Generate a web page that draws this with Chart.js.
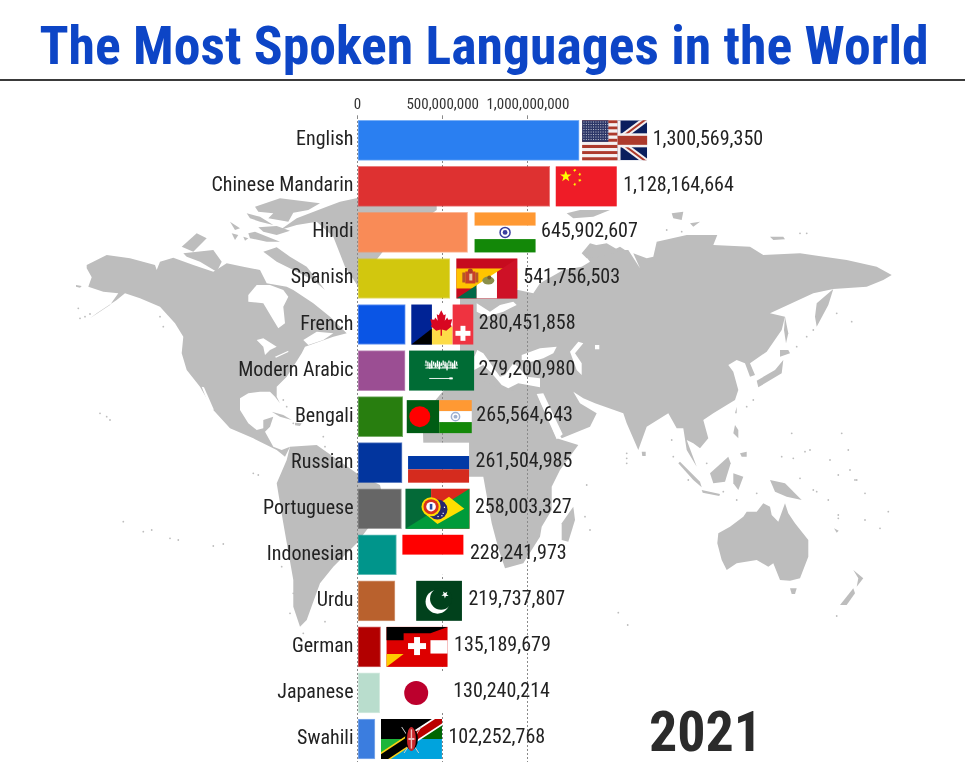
<!DOCTYPE html><html><head><meta charset="utf-8">
<style>html,body{margin:0;padding:0;background:#fff;overflow:hidden}
#map,#c{position:absolute;left:0;top:0}</style>
<script src="https://cdn.jsdelivr.net/npm/chart.js@4"></script></head><body>
<svg id="map" width="965" height="773" viewBox="0 0 965 773"></svg>
<canvas id="c" width="965" height="773"></canvas>
<script>
const languages=['English','Chinese Mandarin','Hindi','Spanish','French','Modern Arabic','Bengali','Russian','Portuguese','Indonesian','Urdu','German','Japanese','Swahili'];
const speakers=[1300569350,1128164664,645902607,541756503,280451858,279200980,265564643,261504985,258003327,228241973,219737807,135189679,130240214,102252768];
const barColors=['#2a7ff1','#de3131','#f98b57','#d2c70e','#0a55e5','#9b4e93','#287e0f','#02359e','#666666','#00958b','#b9612d','#b20000','#b9ddcd','#3b7ddf'];
const tickValues=[0,500000000,1000000000];
const titleText='The Most Spoken Languages in the World';
const yearText='2021';
const FONT='"Roboto Condensed"';

/* ---------- background map (decoration behind the chart) ---------- */
const z4=p=>[p[0]/3,190+p[1]/3], z5=p=>[480+p[0]/3,190+p[1]/3], z2=p=>[340+p[0]/3,300+p[1]/3], z3=p=>[230+p[0]/3,190+p[1]/3];
const GREY='#bdbdbd';
const mapShapes=[
 [z4,GREY,[[260,225],[320,195],[390,205],[465,225],[470,240],[480,215],[520,203],[580,225],[640,245],[680,220],[730,230],[780,240],[800,280],[860,290],[880,300],[940,340],[990,380],[1040,430],[1000,440],[915,470],[905,490],[860,560],[830,590],[830,620],[840,640],[825,620],[810,605],[780,605],[745,610],[720,625],[720,660],[745,700],[770,720],[790,715],[790,690],[820,680],[810,710],[795,725],[820,770],[845,780],[870,770],[855,800],[830,780],[760,745],[690,715],[640,660],[600,590],[560,540],[545,490],[550,440],[525,400],[480,350],[420,325],[375,310],[350,330],[290,370],[270,385],[330,345],[355,310],[310,305],[265,290],[275,262],[260,235]]],
 [z4,'#fff',[[745,315],[770,285],[810,285],[850,300],[865,320],[850,350],[855,400],[835,415],[820,390],[790,340],[745,335]]],
 [z4,'#fff',[[770,450],[790,445],[830,470],[810,480],[795,495],[790,470]]],
 [z4,'#fff',[[825,500],[865,482],[865,486],[828,503]]],
 [z4,'#fff',[[910,450],[950,425],[1000,430],[970,450],[925,465]]],
 [z4,'#fff',[[605,590],[612,592],[642,660],[630,655]]],
 [z4,GREY,[[815,665],[850,675],[875,690],[840,680]]],
 [z4,GREY,[[885,698],[905,700],[900,708],[885,706]]],
 [z4,GREY,[[228,285],[245,288],[240,293],[228,290]]],
 // arctic islands
 [z4,GREY,[[790,185],[830,172],[870,200],[920,230],[975,300],[940,270],[880,240],[830,215]]],
 [z4,GREY,[[550,190],[640,180],[665,215],[650,245],[600,215],[560,200]]],
 [z4,GREY,[[545,170],[590,130],[620,145],[580,185]]],
 [z3,GREY,[[75,50],[150,25],[270,40],[235,60],[190,68],[175,95],[115,85],[130,70],[85,65]]],
 [z3,GREY,[[50,70],[90,80],[130,105],[90,95],[60,85]]],
 [z3,GREY,[[85,112],[140,108],[180,122],[140,135],[100,125]]],
 [z3,GREY,[[0,95],[30,115],[15,120]]],
 [z3,GREY,[[55,130],[75,125],[150,155],[110,155],[60,145]]],
 [z3,GREY,[[5,130],[25,135],[15,150]]],
 [z3,GREY,[[40,140],[55,145],[45,152]]],
 // Greenland
 [z3,GREY,[[150,120],[200,85],[290,50],[330,35],[400,20],[620,15],[620,60],[470,170],[400,260],[385,290],[345,230],[310,140],[260,95],[200,105]]],
 // South America
 [z4,GREY,[[870,770],[950,765],[1070,850],[1140,885],[1155,950],[1100,1020],[1070,1060],[1000,1130],[960,1180],[920,1290],[900,1310],[880,1250],[880,1170],[850,1000],[830,880],[860,810]]],
 // Eurasia
 [z5,GREY,[[-60,300],[115,300],[160,310],[180,280],[250,240],[305,230],[330,215],[310,190],[350,165],[380,160],[415,180],[445,180],[480,235],[460,190],[500,205],[520,200],[530,155],[620,135],[712,135],[700,165],[810,170],[850,195],[960,190],[1100,210],[1190,230],[1235,255],[1210,270],[1160,290],[1060,297],[1045,345],[1010,410],[1005,380],[1010,340],[1060,297],[1000,310],[870,370],[915,380],[905,420],[860,485],[810,520],[825,555],[810,560],[795,520],[770,510],[745,525],[760,545],[775,600],[765,630],[700,670],[670,690],[685,745],[660,775],[640,760],[620,750],[650,830],[620,780],[610,715],[590,715],[565,670],[500,710],[475,780],[440,700],[430,670],[345,640],[310,625],[280,605],[300,640],[350,670],[330,710],[245,745],[215,700],[180,612],[170,640],[-60,640]]],
 // Africa
 [z5,GREY,[[-100,590],[0,570],[75,600],[170,610],[230,745],[295,765],[240,840],[215,890],[215,960],[185,1010],[180,1040],[130,1120],[75,1135],[55,1075],[35,1000],[10,860],[-40,860],[-100,830],[-170,760],[-171,730],[-150,650]]],
 // seas
 [z2,'#fff',[[403,210],[430,195],[455,220],[485,255],[505,265],[535,250],[600,262],[600,235],[560,230],[535,200],[520,190],[495,225],[480,230],[455,195],[430,160],[412,150],[403,170]]],
 [z2,'#fff',[[545,165],[600,145],[650,140],[640,160],[610,175],[575,185],[545,180]]],
 [z2,'#fff',[[690,155],[715,125],[730,130],[705,160],[725,190],[725,225],[710,210]]],
 [z2,'#fff',[[765,135],[778,135],[778,148],[765,148]]],
 [z5,'#fff',[[-10,340],[30,365],[60,345],[100,335],[110,345],[70,365],[20,380],[-10,365]]],
 [z5,'#fff',[[170,612],[190,610],[248,733],[230,748]]],
 // islands
 [z5,GREY,[[280,950],[285,990],[265,1055],[245,1050],[245,1000]]],
 [z5,GREY,[[910,510],[905,550],[835,592],[830,572],[885,540]]],
 [z5,GREY,[[900,480],[925,480],[930,490],[900,500]]],
 [z5,GREY,[[915,380],[925,430],[918,460],[912,420]]],
 [z5,GREY,[[485,785],[497,785],[497,798],[487,798]]],
 [z5,GREY,[[715,1030],[750,1010],[790,980],[800,965],[830,965],[850,940],[870,950],[875,975],[895,995],[915,940],[925,970],[945,1000],[985,1050],[985,1100],[960,1165],[930,1172],[900,1170],[880,1120],[865,1130],[830,1110],[770,1120],[740,1140],[725,1110],[712,1060]]],
 [z5,GREY,[[930,1195],[950,1195],[945,1212],[935,1212]]],
 [z5,GREY,[[1120,1140],[1150,1165],[1130,1190],[1135,1165]]],
 [z5,GREY,[[1120,1195],[1080,1245],[1100,1245],[1125,1210]]],
 [z5,GREY,[[600,815],[660,875],[665,892],[640,870],[595,820]]],
 [z5,GREY,[[665,900],[720,912],[718,918],[668,908]]],
 [z5,GREY,[[690,850],[745,800],[752,820],[735,875],[700,880]]],
 [z5,GREY,[[870,870],[915,880],[965,930],[920,920],[885,905]]],
 [z5,GREY,[[765,705],[775,720],[775,745],[760,730]]],
 [z5,GREY,[[780,790],[800,785],[800,800],[785,800]]],
 [z5,GREY,[[760,850],[790,860],[775,900],[760,880]]],
 [z5,GREY,[[770,650],[770,670],[765,670]]],
 [z5,GREY,[[1062,1015],[1076,1022],[1070,1028]]],
 // Svalbard / Novaya Zemlya / Russian arctic
 [z5,GREY,[[260,70],[300,60],[390,60],[340,80],[280,85]]],
 [z5,GREY,[[305,190],[330,160],[400,180],[420,170],[435,180],[360,200],[320,205]]],
 [z5,GREY,[[575,70],[610,65],[605,90],[580,85]]],
 [z5,GREY,[[630,100],[660,95],[640,110]]],
 [z5,GREY,[[870,140],[910,140],[915,148],[880,150]]],
 [z5,GREY,[[150,310],[170,318],[150,322]]]
];
const mapDots=[
 [z5,[[935,730],[1085,730],[1105,780],[1050,810],[1110,840],[1125,870],[1155,910],[1075,855],[1010,905],[1045,930],[1075,975],[1155,990],[1200,1015],[905,800],[940,805],[975,785],[990,780],[1225,965],[440,790],[440,805],[440,820],[950,470],[980,440],[1000,420],[1070,370],[1115,395],[820,630],[800,650],[575,750],[580,800],[625,870],[680,820],[315,980],[330,1020],[320,885],[415,1268],[443,1305],[1070,1278],[730,905],[770,930],[830,910],[960,865],[1000,900],[1130,870],[1075,985],[560,120],[605,125],[960,130],[980,130]]],
 [z4,[[300,670],[320,680],[330,690],[370,995],[430,1025],[455,1020],[510,1045],[535,1050],[640,1068],[670,1062],[760,850],[775,855],[240,385],[255,380],[270,372],[235,355],[480,380],[490,410],[850,630],[860,650],[880,700],[970,740],[975,770],[845,1130],[880,1210],[870,1270],[975,1295],[910,1330]]]
];
(function(){
 const svg=document.getElementById('map');let h='';
 mapShapes.forEach(([f,col,pts])=>{h+='<polygon fill="'+col+'" points="'+pts.map(p=>f(p).map(v=>v.toFixed(1)).join(',')).join(' ')+'"/>';});
 mapDots.forEach(([f,pts])=>pts.forEach(p=>{const q=f(p);h+='<circle fill="'+GREY+'" cx="'+q[0].toFixed(1)+'" cy="'+q[1].toFixed(1)+'" r="0.9"/>';}));
 svg.innerHTML=h;
})();

/* ---------- flags ---------- */
function rect(g,x,y,w,h,col){g.fillStyle=col;g.fillRect(x,y,w,h);}
function poly(g,col,pts){g.fillStyle=col;g.beginPath();pts.forEach((p,i)=>i?g.lineTo(p[0],p[1]):g.moveTo(p[0],p[1]));g.closePath();g.fill();}
function disc(g,x,y,r,col){g.fillStyle=col;g.beginPath();g.arc(x,y,r,0,7);g.fill();}
function star(g,cx,cy,r,col,rot){const p=[];for(let i=0;i<10;i++){const a=(rot||-Math.PI/2)+i*Math.PI/5,q=i%2?r*0.4:r;p.push([cx+q*Math.cos(a),cy+q*Math.sin(a)]);}poly(g,col,p);}
function seg(g,col,lw,a,b,c,d){g.strokeStyle=col;g.lineWidth=lw;g.lineCap='butt';g.beginPath();g.moveTo(a,b);g.lineTo(c,d);g.stroke();}
function clipTo(g,x,y,w,h,fn){g.save();g.beginPath();g.rect(x,y,w,h);g.clip();fn();g.restore();}
function india(g,x,y,w,h,chakra){rect(g,x,y,w,h/3,'#ff9933');rect(g,x,y+h/3,w,h/3,'#ffffff');rect(g,x,y+2*h/3,w,h/3,'#138808');
 g.strokeStyle=chakra;g.lineWidth=1.5;g.beginPath();g.arc(x+w/2,y+h/2,h*0.125,0,7);g.stroke();disc(g,x+w/2,y+h/2,h*0.06,chakra);}
function cross(g,cx,cy,s,col){const t=s*0.33;rect(g,cx-s,cy-t,2*s,2*t,col);rect(g,cx-t,cy-s,2*t,2*s,col);}
const flags=[
 function(g,x,y,w,h){ // US + right half of UK
  const uw=w*0.545,red='#ad3a2c',wh='#f4f0f0';rect(g,x,y,w,h,'#ffffff');
  for(let i=0;i<13;i++)rect(g,x,y+i*h/13,uw,h/13,i%2?wh:red);
  rect(g,x,y,uw*0.74,h*7/13,'#2d3768');
  g.fillStyle='rgba(255,255,255,.7)';for(let r=0;r<8;r++)for(let c=0;c<11;c++)g.fillRect(x+1.3+c*2.4,y+1.2+r*2.5,1,1);
  const ux=x+uw,uu=w-uw,cy=y+h/2;
  clipTo(g,ux,y,uu,h,()=>{rect(g,ux,y,uu,h,'#0b1f5e');
   seg(g,wh,6,ux,cy,ux+uu,y-2);seg(g,wh,6,ux,cy,ux+uu,y+h+2);
   seg(g,red,2,ux,cy,ux+uu,y-2);seg(g,red,2,ux,cy,ux+uu,y+h+2);
   rect(g,ux,cy-7,uu,14,wh);rect(g,ux,y,3,h,wh);
  });
  rect(g,x+uw,cy-4.5,w-uw,9,red);
 },
 function(g,x,y,w,h){rect(g,x,y,w,h,'#ef1c27');star(g,x+10,y+10,6,'#ffff00');
  [[19,4,0.4],[24,8,0.6],[24,14,0.2],[19,18,0.7]].forEach(s=>star(g,x+s[0],y+s[1],1.9,'#ffff00',s[2]));},
 function(g,x,y,w,h){india(g,x,y,w,h,'#3a3f9f');},
 function(g,x,y,w,h){ // Spain + Mexico
  rect(g,x,y,w,h,'#c60b1e');rect(g,x,y+h*0.25,w,h*0.5,'#ffc400');
  g.save();g.beginPath();g.moveTo(x,y+h);g.lineTo(x+w,y);g.lineTo(x+w,y+h);g.closePath();g.clip();
  rect(g,x,y,w/3,h,'#006847');rect(g,x+w/3,y,w/3,h,'#ffffff');rect(g,x+2*w/3,y,w/3,h,'#ce1126');g.restore();
  g.fillStyle='#b5562a';g.fillRect(x+6,y+14,3,10);g.fillRect(x+19,y+14,3,10);g.fillStyle='#c8402a';g.fillRect(x+9,y+13,10,12);g.fillStyle='#e8c9a0';g.fillRect(x+13,y+15,3,7);disc(g,x+14,y+12.5,2.5,'#b03a2e');
  g.fillStyle='#8a8f4a';g.beginPath();g.ellipse(x+32,y+22,6,4,0,0,7);g.fill();disc(g,x+33,y+19,2,'#7a5c2a');
 },
 function(g,x,y,w,h){ // France/Belgium + Canada + Switzerland
  const a=w/3;rect(g,x,y,a,h,'#002395');poly(g,'#000',[[x,y+h],[x+a,y+h*0.6],[x+a,y+h]]);
  rect(g,x+a,y,a,h,'#fff');poly(g,'#fddc48',[[x+a,y+h*0.6],[x+2*a,y+h*0.55],[x+2*a,y+h],[x+a,y+h]]);
  rect(g,x+2*a,y,a,h,'#ef3340');
  const cx=x+1.45*a,cy=y+h*0.42,s=11;
  poly(g,'#d80621',[[cx,cy-s],[cx+2.5,cy-s*0.55],[cx+4.5,cy-s*0.65],[cx+3.5,cy-s*0.05],[cx+6,cy-s*0.35],[cx+7,cy-s*0.15],[cx+11,cy-s*0.2],[cx+9.5,cy+s*0.3],[cx+10.5,cy+s*0.45],[cx+5,cy+s*0.85],[cx+0.7,cy+s*0.75],[cx+0.7,cy+s*1.3],[cx-0.7,cy+s*1.3],[cx-0.7,cy+s*0.75],[cx-5,cy+s*0.85],[cx-10.5,cy+s*0.45],[cx-9.5,cy+s*0.3],[cx-11,cy-s*0.2],[cx-7,cy-s*0.15],[cx-6,cy-s*0.35],[cx-3.5,cy-s*0.05],[cx-4.5,cy-s*0.65],[cx-2.5,cy-s*0.55]]);
  cross(g,x+2.5*a,y+h*0.72,7.5,'#fff');
 },
 function(g,x,y,w,h){ // Saudi Arabia
  rect(g,x,y,w,h,'#006c35');const sx=x+w*0.25,sw=w*0.5;
  g.fillStyle='#fff';for(let i=0;i<17;i++){const cx=sx+i*sw/17;g.fillRect(cx,y+10+(i%3),1.3,3+(i%4)*1.6);g.fillRect(cx-0.6,y+14+(i%2)*2,2.6,1);}
  g.fillRect(sx,y+17,sw,0.9);
  g.fillRect(x+w*0.31,y+27.4,w*0.36,0.9);g.fillRect(x+w*0.62,y+26.8,w*0.05,2);
 },
 function(g,x,y,w,h){ // Bangladesh + India
  rect(g,x,y,w/2,h,'#005c14');disc(g,x+w*0.2,y+h/2,10.5,'#ff0000');india(g,x+w/2,y,w/2,h,'#9fb0d0');
 },
 function(g,x,y,w,h){rect(g,x,y,w,h/3,'#ffffff');rect(g,x,y+h/3,w,h/3,'#0039a6');rect(g,x,y+2*h/3,w,h/3,'#d52b1e');},
 function(g,x,y,w,h){ // Portugal + Brazil
  rect(g,x,y,w*0.4,h,'#046a38');rect(g,x+w*0.4,y,w*0.6,h,'#da291c');
  poly(g,'#009b3a',[[x,y+h],[x+w,y],[x+w,y+h]]);
  poly(g,'#fedf00',[[x+w*0.92,y+h/2],[x+w*0.5,y+h*0.88],[x+w*0.3,y+h*0.62],[x+w*0.68,y+h*0.2]]);
  disc(g,x+w*0.5,y+h*0.52,h*0.25,'#25276e');
  g.fillStyle='#fff';[[.47,.55],[.52,.5],[.58,.6],[.5,.68],[.56,.66],[.6,.45]].forEach(s=>g.fillRect(x+w*s[0],y+h*s[1],1.2,1.2));
  disc(g,x+w*0.4,y+h*0.45,h*0.24,'#ffdd00');disc(g,x+w*0.4,y+h*0.45,h*0.19,'#d7301f');disc(g,x+w*0.4,y+h*0.45,h*0.12,'#fff');rect(g,x+w*0.38,y+h*0.38,w*0.04,h*0.14,'#2a4aa0');
 },
 function(g,x,y,w,h){rect(g,x,y,w,h/2,'#ff0000');rect(g,x,y+h/2,w,h/2,'#ffffff');},
 function(g,x,y,w,h){ // Pakistan
  rect(g,x,y,w,h,'#ffffff');rect(g,x+w*0.25,y,w*0.75,h,'#01411c');
  const cx=x+w*0.6,cy=y+h*0.52;disc(g,cx,cy,12,'#fff');disc(g,cx+3.5,cy-3,11,'#01411c');star(g,cx+7.5,cy-7,3.8,'#fff',-0.9);
 },
 function(g,x,y,w,h){ // Germany + Switzerland + Austria
  rect(g,x,y,w,h,'#dd0000');poly(g,'#000',[[x,y],[x+w,y],[x+w*0.72,y+h*0.16],[x+w*0.28,y+h*0.16],[x+w*0.28,y+h/3],[x,y+h/3]]);
  poly(g,'#ffcc00',[[x,y+h*0.68],[x+w*0.28,y+h*0.68],[x,y+h]]);
  cross(g,x+w*0.5,y+h*0.48,9,'#fff');rect(g,x+w*0.72,y+h/3,w*0.28,h/3,'#fff');
 },
 function(g,x,y,w,h){rect(g,x,y,w,h,'#fff');disc(g,x+w/2,y+h/2,12,'#bc002d');},
 function(g,x,y,w,h){ // Kenya + Tanzania
  const mx=x+w/2,my=y+h/2,r=x+w,b=y+h;
  clipTo(g,x,y,w,h,()=>{rect(g,x,y,w,h,'#00a3dd');
   poly(g,'#000',[[x,y],[r,y],[mx,my],[x,my]]);
   poly(g,'#006600',[[mx,my],[r,y],[r,my]]);
   poly(g,'#1eb53a',[[x,my],[mx,my],[x,b]]);
   seg(g,'#fcd116',11,x-2,b+1.3,mx,my);seg(g,'#000',8,x-2,b+1.3,mx+1,my-0.7);
   seg(g,'#fff',11,mx,my,r+2,y-1.3);seg(g,'#bb0000',7.5,mx-1,my+0.7,r+2,y-1.3);
   seg(g,'#cfcfcf',1,x+w*0.34,y+h*0.2,x+w*0.62,y+h*0.85);seg(g,'#cfcfcf',1,x+w*0.66,y+h*0.2,x+w*0.38,y+h*0.85);
   g.fillStyle='#000';g.beginPath();g.ellipse(mx,my,6.5,11,0,0,7);g.fill();
   g.fillStyle='#c8262a';g.beginPath();g.ellipse(mx,my,4.5,12,0,0,7);g.fill();
   g.fillStyle='#f0c0c0';g.fillRect(mx-0.7,y+h*0.26,1.4,h*0.48);g.fillRect(mx-3,my-1,6,2);
  });
 }
];
const flagBox=[[3,65,40],[6,61,40],[7,61,40],[6.5,61,40],[6,62,40],[4,65,40],[4,65,33],[6,61,40],[4,64,40],[6,61,40],[6,61,40],[6,61,40],[6,61,40],[6,61,40]];

/* ---------- chart ---------- */
const overlay={id:'overlay',
 beforeDraw(ch){const g=ch.ctx;g.save();
  g.fillStyle='#0d45c6';g.font='bold 53.7px '+FONT;g.textAlign='center';g.textBaseline='alphabetic';g.fillText(titleText,484,64);
  g.fillStyle='#3a3a3a';g.fillRect(0,79,965,2);g.restore();},
 afterDatasetsDraw(ch){const g=ch.ctx,X=ch.scales.x,Y=ch.scales.y;g.save();
  speakers.forEach((v,i)=>{const end=X.getPixelForValue(v),cy=Y.getPixelForValue(i),b=flagBox[i];
   const ft=cy-20;flags[i](g,end+b[0],ft+(40-b[2])/2,b[1],b[2]);
   g.fillStyle='#222';g.font='20px '+FONT;g.textAlign='left';g.textBaseline='middle';g.fillText(v.toLocaleString('en-US'),end+73.5,cy-0.5);});
  g.fillStyle='#2b2b2b';g.font='bold 56px '+FONT;g.textAlign='center';g.textBaseline='middle';g.fillText(yearText,705.5,737);
  g.restore();}
};
new Chart(document.getElementById('c'),{type:'bar',
 data:{labels:languages,datasets:[{data:speakers,backgroundColor:barColors,borderColor:barColors.map(c=>c+'a0'),borderWidth:1,barThickness:40,borderSkipped:false}]},
 plugins:[overlay],
 options:{indexAxis:'y',responsive:false,animation:false,devicePixelRatio:1,
  layout:{autoPadding:false,padding:{top:0,left:0,right:0,bottom:11}},
  plugins:{legend:{display:false},tooltip:{enabled:false},title:{display:false}},
  scales:{
   x:{position:'top',min:0,max:3565000000,
    afterBuildTicks(s){s.ticks=tickValues.map(v=>({value:v}));},
    afterFit(s){s.height=117.3;s.paddingLeft=0;s.paddingRight=0;},
    ticks:{callback:v=>Number(v).toLocaleString('en-US'),font:{family:FONT,size:15},color:'#333',maxRotation:0,autoSkip:false,padding:1},
    grid:{color:'#8a8a8a',lineWidth:1,tickLength:2},border:{display:false,dash:[2,2]}},
   y:{afterFit(s){s.width=357.5;s.paddingTop=0;s.paddingBottom=0;},
    ticks:{font:{family:FONT,size:20},color:'#222',padding:4,autoSkip:false},
    grid:{display:false,drawTicks:false},border:{display:false}}
  }}});
</script></body></html>
